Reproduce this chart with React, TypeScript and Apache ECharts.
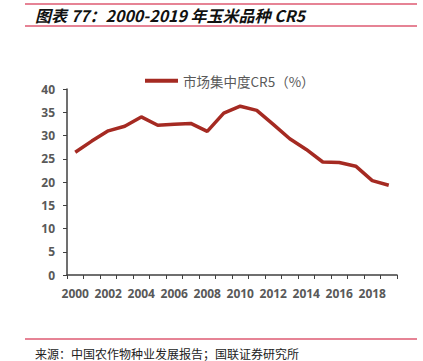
import React, { useEffect, useRef } from "react";
import * as echarts from "echarts";

const years = [
  "2000", "2001", "2002", "2003", "2004", "2005", "2006", "2007", "2008", "2009",
  "2010", "2011", "2012", "2013", "2014", "2015", "2016", "2017", "2018", "2019",
];
const cr5 = [
  26.4, 28.8, 31.0, 32.0, 34.0, 32.2, 32.4, 32.6, 30.9, 34.8,
  36.3, 35.4, 32.4, 29.3, 27.0, 24.3, 24.2, 23.4, 20.3, 19.3,
];
const seriesName = "市场集中度CR5（%）";
const titleText = "图表 77：2000-2019 年玉米品种 CR5";
const sourceText = "来源：中国农作物种业发展报告；国联证券研究所";

export default function App() {
  const ref = useRef<HTMLDivElement>(null);
  useEffect(() => {
    document.body.style.margin = "0";
    const chart = echarts.init(ref.current!, null, { renderer: "svg" });
    const gray = "#595959";
    chart.setOption({
      animation: false,
      backgroundColor: "#ffffff",
      grid: { left: 67, right: 26, top: 89, bottom: 86 },
      legend: {
        left: 140,
        top: 69,
        itemWidth: 33,
        itemHeight: 4,
        itemGap: 4,
        icon: "rect",
        textStyle: { color: gray, fontSize: 13.5, fontFamily: "Noto Sans CJK SC" },
        data: [seriesName],
      },
      xAxis: {
        type: "category",
        data: years,
        boundaryGap: true,
        axisLine: { lineStyle: { color: "#404040", width: 1.5 } },
        axisTick: { show: true, alignWithLabel: false, length: 4, interval: 0, lineStyle: { color: "#404040" } },
        axisLabel: {
          interval: 1,
          color: gray,
          fontSize: 12,
          fontWeight: "bold",
          fontFamily: "Open Sans",
          margin: 12,
        },
      },
      yAxis: {
        type: "value",
        min: 0,
        max: 40,
        interval: 5,
        splitLine: { show: false },
        axisLine: { show: true, lineStyle: { color: "#404040", width: 1.5 } },
        axisTick: { show: true, length: 4, lineStyle: { color: "#404040" } },
        axisLabel: {
          color: gray,
          fontSize: 12,
          fontWeight: "bold",
          fontFamily: "Open Sans",
          margin: 12,
        },
      },
      series: [
        {
          name: seriesName,
          type: "line",
          data: cr5,
          symbol: "none",
          lineStyle: { color: "#a52a22", width: 3.5 },
          itemStyle: { color: "#a52a22" },
        },
      ],
      graphic: [
        { type: "line", shape: { x1: 25, y1: 4, x2: 417, y2: 4 }, style: { stroke: "#de5a72", lineWidth: 1.5 } },
        { type: "line", shape: { x1: 25, y1: 26, x2: 417, y2: 26 }, style: { stroke: "#de5a72", lineWidth: 1.5 } },
        {
          type: "text",
          x: 35,
          y: 15,
          style: {
            text: titleText,
            fill: "#111111",
            font: "italic bold 16px 'Noto Sans CJK SC'",
            verticalAlign: "middle",
          },
        },
        { type: "line", shape: { x1: 25, y1: 339, x2: 417, y2: 339 }, style: { stroke: "#de5a72", lineWidth: 1.5 } },
        {
          type: "text",
          x: 35,
          y: 353,
          style: {
            text: sourceText,
            fill: "#222222",
            font: "12px 'Noto Sans CJK SC'",
            verticalAlign: "middle",
          },
        },
      ],
    });
    return () => chart.dispose();
  }, []);
  return <div ref={ref} style={{ width: 423, height: 361 }} />;
}
